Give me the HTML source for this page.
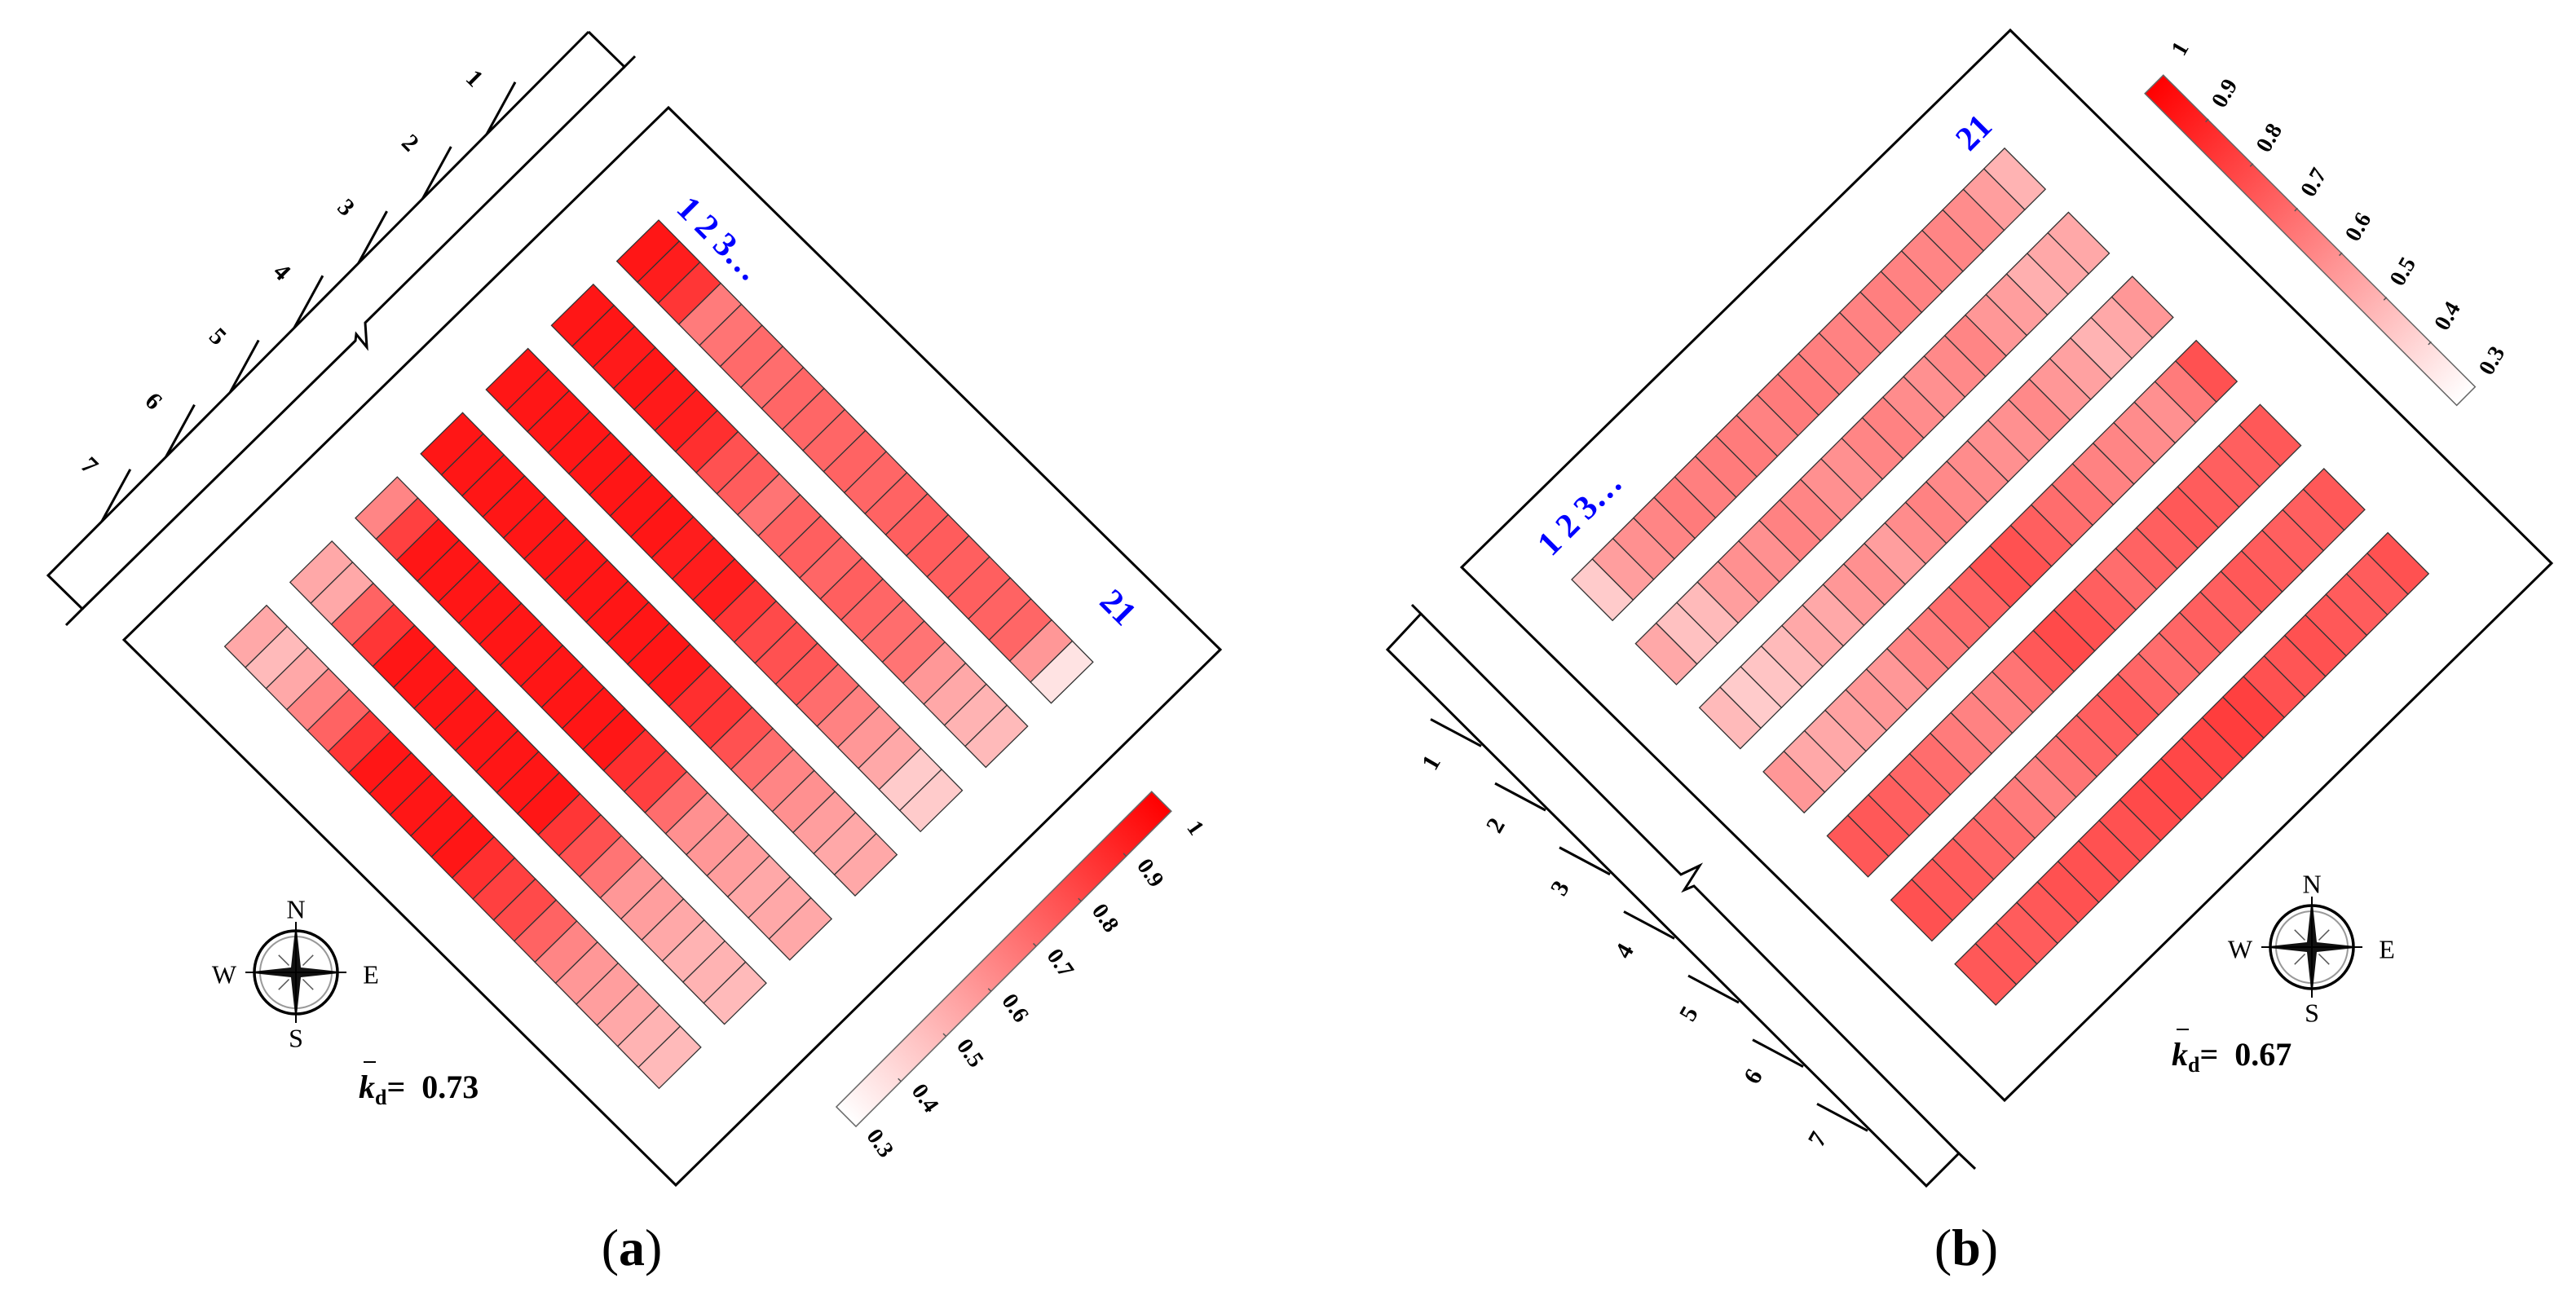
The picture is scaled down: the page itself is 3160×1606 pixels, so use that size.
<!DOCTYPE html>
<html><head><meta charset="utf-8"><style>
html,body{margin:0;padding:0;background:#fff;}
svg{display:block;}
text{font-family:"Liberation Serif",serif;}
</style></head><body>
<svg id="fig" width="3160" height="1606" viewBox="0 0 3160 1606" xmlns="http://www.w3.org/2000/svg">
<defs>
<linearGradient id="gradA" x1="0" y1="0" x2="1" y2="0"><stop offset="0" stop-color="#ffffff"/><stop offset="1" stop-color="#ff0000"/></linearGradient>
</defs>
<rect width="3160" height="1606" fill="#fff"/>
<polygon points="820,132 1497,797 829,1454 152,785" fill="none" stroke="#000" stroke-width="3"/>
<polygon points="2466,37 3130,691 2459,1350 1793,696" fill="none" stroke="#000" stroke-width="3"/>
<g fill="none" stroke="#000" stroke-width="3">
<path d="M722,39 L59,706 L101,747 L81,767"/>
<path d="M722,39 L766,82 L779,69"/>
<path d="M766,82 L448,396 L450,426 L437,410 L436,418 L101,747"/>
</g>
<g fill="none" stroke="#000" stroke-width="3">
<path d="M1732,742 L1743,753 L1702,797 L2363,1455 L2403,1415 L2423,1434"/>
<path d="M1743,753 L2062,1073 L2085,1062 L2066,1092 L2078,1087 L2403,1415"/>
</g>
<g id="lanes"></g>
<g id="cellsA" transform="translate(808,270) rotate(45.5)"></g>
<g id="cellsB" transform="translate(1928,711) rotate(-44.9)"></g>
<g id="cbarA" transform="translate(1038,1370) rotate(-45)">
<rect x="0" y="-17" width="547" height="34" fill="url(#gradA)" stroke="#666" stroke-width="1.5"/>
</g>
<g id="cbarB" transform="translate(3025,486) rotate(-135)">
<rect x="0" y="-16" width="541" height="32" fill="url(#gradA)" stroke="#666" stroke-width="1.5"/>
</g>
<text transform="translate(828,258) rotate(45)" font-size="42" font-weight="bold" fill="#0000ff">1 2 3…</text>
<text transform="translate(1347,740) rotate(45)" font-size="42" font-weight="bold" fill="#0000ff">21</text>
<text transform="translate(1903,684) rotate(-45)" font-size="42" font-weight="bold" fill="#0000ff">1 2 3…</text>
<text transform="translate(2416,187) rotate(-45)" font-size="42" font-weight="bold" fill="#0000ff">21</text>
<g id="compasses"></g>
<text x="440" y="1347" font-size="40" font-weight="bold"><tspan font-style="italic">k</tspan><tspan font-size="26" dy="8">d</tspan><tspan dy="-8">=&#160;&#160;0.73</tspan></text>
<line x1="446" y1="1303" x2="461" y2="1303" stroke="#000" stroke-width="2"/>
<text x="2664" y="1307" font-size="40" font-weight="bold"><tspan font-style="italic">k</tspan><tspan font-size="26" dy="8">d</tspan><tspan dy="-8">=&#160;&#160;0.67</tspan></text>
<line x1="2670" y1="1263" x2="2685" y2="1263" stroke="#000" stroke-width="2"/>
<text x="775" y="1552" font-size="64" text-anchor="middle">(<tspan font-weight="bold">a</tspan>)</text>
<text x="2412" y="1552" font-size="64" text-anchor="middle">(<tspan font-weight="bold">b</tspan>)</text>
</svg>
<script>
const aRow1=[0.97,0.95,0.88,0.68,0.70,0.73,0.72,0.74,0.74,0.74,0.75,0.74,0.75,0.76,0.77,0.76,0.76,0.75,0.74,0.60,0.38];
const aRow2=[0.97,0.97,0.96,0.97,0.96,0.95,0.90,0.80,0.77,0.70,0.75,0.76,0.74,0.76,0.74,0.72,0.70,0.60,0.55,0.52,0.50];
const aRow3=[0.97,0.97,0.97,0.97,0.97,0.97,0.97,0.97,0.95,0.95,0.95,0.88,0.82,0.80,0.78,0.72,0.66,0.60,0.55,0.45,0.45];
const aRow4=[0.97,0.97,0.97,0.97,0.97,0.97,0.97,0.97,0.97,0.97,0.97,0.96,0.90,0.88,0.80,0.72,0.65,0.62,0.58,0.55,0.55];
const aRow5=[0.65,0.85,0.97,0.97,0.97,0.97,0.97,0.97,0.97,0.97,0.97,0.97,0.90,0.85,0.72,0.62,0.60,0.58,0.55,0.55,0.55];
const aRow6=[0.55,0.55,0.75,0.88,0.97,0.97,0.97,0.97,0.97,0.97,0.97,0.97,0.88,0.80,0.70,0.60,0.58,0.55,0.52,0.52,0.50];
const aRow7=[0.55,0.50,0.55,0.65,0.75,0.88,0.97,0.97,0.97,0.97,0.97,0.90,0.85,0.82,0.75,0.65,0.60,0.58,0.55,0.52,0.50];
const bRow1=[0.45,0.58,0.62,0.65,0.68,0.67,0.68,0.68,0.66,0.68,0.68,0.67,0.66,0.66,0.67,0.66,0.65,0.65,0.63,0.58,0.52];
const bRow2=[0.55,0.48,0.50,0.58,0.62,0.62,0.66,0.65,0.62,0.62,0.65,0.66,0.63,0.62,0.64,0.65,0.60,0.58,0.53,0.55,0.55];
const bRow3=[0.50,0.45,0.47,0.50,0.55,0.55,0.60,0.62,0.58,0.63,0.66,0.64,0.63,0.62,0.62,0.64,0.60,0.57,0.52,0.55,0.60];
const bRow4=[0.60,0.55,0.55,0.57,0.60,0.60,0.65,0.68,0.72,0.75,0.80,0.80,0.76,0.72,0.70,0.66,0.65,0.63,0.62,0.68,0.80];
const bRow5=[0.78,0.78,0.76,0.74,0.72,0.68,0.66,0.66,0.70,0.78,0.82,0.80,0.76,0.72,0.75,0.76,0.78,0.77,0.76,0.76,0.78];
const bRow6=[0.80,0.78,0.77,0.74,0.72,0.68,0.66,0.70,0.74,0.76,0.78,0.74,0.72,0.74,0.76,0.76,0.78,0.77,0.76,0.76,0.78];
const bRow7=[0.78,0.78,0.77,0.78,0.80,0.80,0.80,0.80,0.82,0.84,0.83,0.84,0.86,0.85,0.80,0.79,0.80,0.78,0.77,0.77,0.80];
const cbarTicks=[0.3,0.4,0.5,0.6,0.7,0.8,0.9,1];
const cbarLabels=["0.3","0.4","0.5","0.6","0.7","0.8","0.9","1"];
const laneLabels=["1","2","3","4","5","6","7"];

const NS="http://www.w3.org/2000/svg";
const vmin=0.3,vmax=1;
function color(v){let t=(v-vmin)/(vmax-vmin);t=Math.max(0,Math.min(1,t));const g=Math.round(255*(1-t)+12*t);return `rgb(255,${g},${g})`;}
function mk(tag,attrs,parent){const e=document.createElementNS(NS,tag);for(const k in attrs)e.setAttribute(k,attrs[k]);parent.appendChild(e);return e;}

function drawCells(gid,rows,cw,ch,pitch,prefix){
  const g=document.getElementById(gid);
  rows.forEach((row,r)=>{row.forEach((v,i)=>{
    const el=mk('rect',{x:i*cw,y:r*pitch,width:cw,height:ch,fill:color(v),stroke:'#333','stroke-width':1.3},g);
    
    
  });});
}
drawCells('cellsA',[aRow1,aRow2,aRow3,aRow4,aRow5,aRow6,aRow7],36.2,72,112.4,'cell-a');
drawCells('cellsB',[bRow1,bRow2,bRow3,bRow4,bRow5,bRow6,bRow7],35.7,71,111,'cell-b');

function drawCbar(gid,len,rot,dx,dy,prefix){
  const g=document.getElementById(gid);
  cbarTicks.forEach((v,i)=>{
    const x=(v-vmin)/(vmax-vmin)*len;
    if(i>0&&i<cbarTicks.length-1){mk('line',{x1:x,y1:12,x2:x,y2:17,stroke:'#555','stroke-width':1.5},g);}
    const t=mk('text',{transform:`translate(${x+dx},${dy}) rotate(${rot})`,'font-size':28,'font-weight':'bold','text-anchor':'middle','dominant-baseline':'middle'},g);
    t.textContent=cbarLabels[i];
    
    
  });
}
drawCbar('cbarA',547,100,4,52,'colorbar-a');
drawCbar('cbarB',541,75,6,54,'colorbar-b');

const lg=document.getElementById('lanes');
laneLabels.forEach((lab,k)=>{
  const sx=597-78.7*k, sy=39+(722-sx)*(667/663);
  const la=mk('line',{x1:sx,y1:sy,x2:sx+35,y2:sy-64,stroke:'#000','stroke-width':3},lg);
  
  
  const ta=mk('text',{transform:`translate(${580-78.7*k},${98+79.2*k}) rotate(45)`,'font-size':30,'font-weight':'bold','text-anchor':'middle','dominant-baseline':'middle'},lg);
  ta.textContent=lab;
  
  
  const ex=1817+79*k, ey=797+(ex-1702)*(658/661)+4;
  const lb=mk('line',{x1:ex-62,y1:ey-33,x2:ex,y2:ey,stroke:'#000','stroke-width':3},lg);
  
  
  const tb=mk('text',{transform:`translate(${1758+79*k},${937+77*k}) rotate(-60)`,'font-size':30,'font-weight':'bold','text-anchor':'middle','dominant-baseline':'middle'},lg);
  tb.textContent=lab;
  
  
});

function compass(cx,cy,name){
  const cg=document.getElementById('compasses');
  const g=mk('g',{transform:`translate(${cx},${cy})`},cg);
  
  
  mk('circle',{r:51,fill:'none',stroke:'#000','stroke-width':3.5},g);
  mk('circle',{r:44,fill:'none',stroke:'#999','stroke-width':2},g);
  for(let a=45;a<360;a+=90){const r=Math.PI*a/180;mk('line',{x1:12*Math.cos(r),y1:12*Math.sin(r),x2:30*Math.cos(r),y2:30*Math.sin(r),stroke:'#555','stroke-width':1.5},g);}
  mk('path',{d:'M0,-62 L6,-6 L62,0 L6,6 L0,62 L-6,6 L-62,0 L-6,-6 Z',fill:'#111'},g);
  mk('path',{d:'M0,-62 L0,62 M-62,0 L62,0',stroke:'#000','stroke-width':2},g);
  const labs=[['N',0,-74],['S',0,84],['W',-88,6],['E',92,6]];
  labs.forEach(l=>{const t=mk('text',{x:l[1],y:l[2],'font-size':32,'text-anchor':'middle','dominant-baseline':'middle'},g);t.textContent=l[0];
    
    });
}
compass(363,1193,'compass-a');
compass(2836,1162,'compass-b');
</script>
</body></html>
